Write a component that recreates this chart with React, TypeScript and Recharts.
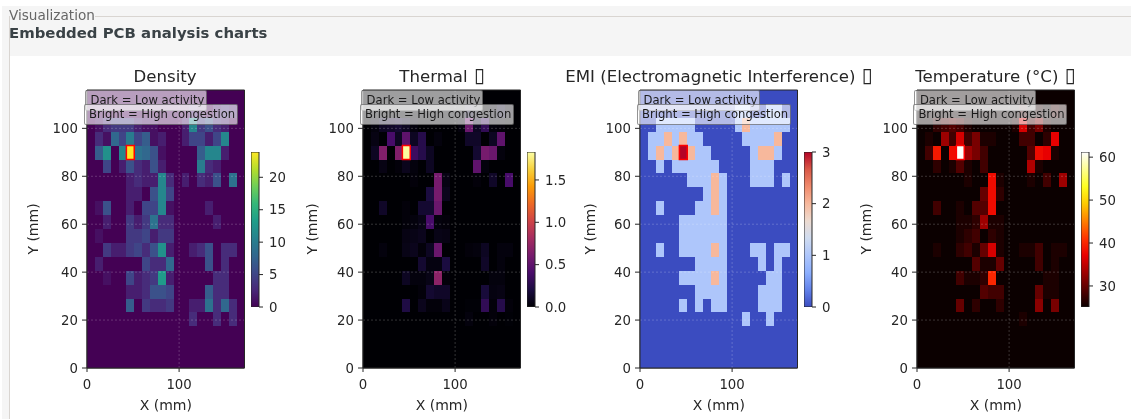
import React from 'react';
import { ScatterChart, Scatter, XAxis, YAxis, ReferenceArea, ReferenceLine, Label } from 'recharts';

const FONT = '"DejaVu Sans", sans-serif';

const CELL_W_MM = 8.55;
const CELL_H_MM = 5.8;
const HOT_COL = 5;
const HOT_ROW = 4;

// each grid reads top row first, 20 x 20 cells
const densityRows = [
  [0, 0, 0, 0, 0, 0, 0, 0, 0, 0, 0, 0, 0, 0, 0, 0, 0, 0, 0, 0],
  [0, 0, 0, 0, 0, 0, 0, 0, 0, 0, 0, 0, 0, 2, 1, 0, 2, 3, 2, 0],
  [0, 1, 3, 4, 4, 4, 2, 1, 1, 0, 0, 0, 2, 11, 4, 6, 3, 2, 0, 0],
  [0, 3, 1, 8, 5, 10, 5, 7, 1, 2, 0, 0, 2, 5, 5, 2, 5, 11, 0, 0],
  [0, 7, 12, 0, 11, 24, 9, 8, 6, 1, 0, 0, 0, 0, 7, 11, 11, 2, 0, 0],
  [0, 0, 5, 0, 2, 6, 3, 2, 6, 2, 0, 0, 0, 0, 10, 3, 2, 0, 0, 0],
  [0, 0, 0, 0, 0, 2, 3, 2, 2, 11, 3, 0, 2, 0, 3, 2, 6, 0, 9, 0],
  [0, 0, 0, 0, 0, 2, 2, 0, 6, 11, 5, 0, 0, 0, 0, 0, 0, 0, 0, 0],
  [0, 1, 6, 0, 0, 2, 0, 5, 5, 11, 1, 0, 0, 0, 0, 2, 0, 0, 0, 0],
  [0, 0, 2, 0, 0, 4, 2, 4, 9, 3, 3, 0, 0, 0, 0, 0, 2, 0, 0, 0],
  [0, 1, 0, 0, 0, 4, 4, 5, 2, 4, 4, 0, 0, 0, 0, 0, 0, 0, 0, 0],
  [0, 0, 4, 2, 2, 4, 5, 3, 6, 12, 2, 0, 0, 2, 3, 6, 0, 3, 3, 0],
  [0, 2, 0, 0, 0, 0, 0, 5, 3, 3, 8, 0, 0, 0, 0, 6, 0, 3, 0, 0],
  [0, 0, 1, 0, 0, 5, 2, 3, 4, 13, 2, 0, 0, 0, 0, 0, 3, 3, 0, 0],
  [0, 0, 0, 0, 0, 2, 2, 3, 6, 6, 5, 0, 0, 0, 0, 7, 3, 3, 0, 0],
  [0, 0, 0, 0, 0, 7, 0, 4, 3, 3, 4, 0, 0, 2, 2, 9, 3, 8, 3, 0],
  [0, 0, 0, 0, 0, 0, 0, 0, 0, 0, 0, 0, 0, 3, 0, 0, 3, 0, 3, 0],
  [0, 0, 0, 0, 0, 0, 0, 0, 0, 0, 0, 0, 0, 0, 0, 0, 0, 0, 0, 0],
  [0, 0, 0, 0, 0, 0, 0, 0, 0, 0, 0, 0, 0, 0, 0, 0, 0, 0, 0, 0],
  [0, 0, 0, 0, 0, 0, 0, 0, 0, 0, 0, 0, 0, 0, 0, 0, 0, 0, 0, 0],
];

const thermalRows = [
  [0, 0, 0, 0, 0, 0, 0, 0, 0, 0, 0, 0, 0, 0, 0, 0, 0, 0, 0, 0],
  [0, 0, 0, 0, 0, 0, 0, 0, 0, 0, 0, 0, 0, 0.1, 0.03, 0, 0.03, 0.1, 0.03, 0],
  [0, 0.03, 0.1, 0.12, 0.15, 0.1, 0.03, 0, 0, 0, 0, 0, 0.03, 0.55, 0.1, 0.3, 0.03, 0.02, 0, 0],
  [0, 0.05, 0, 0.4, 0.1, 0.5, 0.1, 0.25, 0, 0.03, 0, 0, 0, 0.12, 0.12, 0, 0.1, 0.5, 0, 0],
  [0, 0.1, 0.65, 0, 0.65, 1.82, 0.35, 0.25, 0.1, 0, 0, 0, 0, 0, 0.15, 0.6, 0.55, 0.03, 0, 0],
  [0, 0, 0.05, 0, 0.02, 0.08, 0.03, 0, 0.1, 0, 0, 0, 0, 0, 0.5, 0.03, 0, 0, 0, 0],
  [0, 0, 0, 0, 0, 0, 0.02, 0, 0, 0.6, 0.05, 0, 0, 0, 0.02, 0, 0.12, 0, 0.4, 0],
  [0, 0, 0, 0, 0, 0, 0, 0, 0.2, 0.6, 0.08, 0, 0, 0, 0, 0, 0, 0, 0, 0],
  [0, 0, 0.12, 0, 0, 0.02, 0, 0.15, 0.15, 0.55, 0, 0, 0, 0, 0, 0, 0, 0, 0, 0],
  [0, 0, 0, 0, 0, 0.02, 0.03, 0.06, 0.4, 0.03, 0.02, 0, 0, 0, 0, 0, 0, 0, 0, 0],
  [0, 0, 0, 0, 0, 0.05, 0.06, 0.08, 0, 0.06, 0.05, 0, 0, 0, 0, 0, 0, 0, 0, 0],
  [0, 0, 0.03, 0, 0, 0.06, 0.08, 0.02, 0.1, 0.55, 0, 0, 0, 0.02, 0.03, 0.1, 0, 0.03, 0.03, 0],
  [0, 0, 0, 0, 0, 0, 0, 0.15, 0.04, 0.04, 0.2, 0, 0, 0, 0, 0.12, 0, 0.03, 0, 0],
  [0, 0, 0, 0, 0, 0.1, 0.03, 0.03, 0.06, 0.7, 0.02, 0, 0, 0, 0, 0, 0.03, 0.03, 0, 0],
  [0, 0, 0, 0, 0, 0, 0, 0.02, 0.15, 0.12, 0.12, 0, 0, 0, 0, 0.18, 0.04, 0.05, 0, 0],
  [0, 0, 0, 0, 0, 0.22, 0, 0.08, 0.02, 0.02, 0.07, 0, 0, 0.01, 0.01, 0.3, 0.02, 0.25, 0.02, 0],
  [0, 0, 0, 0, 0, 0, 0, 0, 0, 0, 0, 0, 0, 0.03, 0, 0, 0.02, 0, 0.01, 0],
  [0, 0, 0, 0, 0, 0, 0, 0, 0, 0, 0, 0, 0, 0, 0, 0, 0, 0, 0, 0],
  [0, 0, 0, 0, 0, 0, 0, 0, 0, 0, 0, 0, 0, 0, 0, 0, 0, 0, 0, 0],
  [0, 0, 0, 0, 0, 0, 0, 0, 0, 0, 0, 0, 0, 0, 0, 0, 0, 0, 0, 0],
];

const emiRows = [
  [0, 0, 0, 0, 0, 0, 0, 0, 0, 0, 0, 0, 0, 0, 0, 0, 0, 0, 0, 0],
  [0, 0, 0, 0, 0, 0, 0, 0, 0, 0, 0, 0, 1, 1, 0, 0, 1, 1, 0, 0],
  [0, 0, 1, 1, 1, 1, 1, 0, 0, 0, 0, 0, 1, 2, 1, 1, 1, 1, 1, 0],
  [0, 1, 1, 2, 1, 2, 1, 1, 0, 0, 0, 0, 0, 1, 1, 1, 1, 2, 0, 0],
  [0, 1, 2, 1, 2, 3, 2, 1, 1, 0, 0, 0, 0, 0, 1, 2, 2, 1, 0, 0],
  [0, 0, 1, 0, 1, 1, 1, 1, 1, 1, 0, 0, 0, 0, 1, 1, 1, 0, 0, 0],
  [0, 0, 0, 0, 0, 0, 1, 1, 1, 2, 1, 0, 0, 0, 1, 1, 1, 0, 1, 0],
  [0, 0, 0, 0, 0, 0, 0, 0, 1, 2, 1, 0, 0, 0, 0, 0, 0, 0, 0, 0],
  [0, 0, 1, 0, 0, 0, 0, 1, 1, 2, 1, 0, 0, 0, 0, 0, 0, 0, 0, 0],
  [0, 0, 0, 0, 0, 1, 1, 1, 1, 1, 1, 0, 0, 0, 0, 0, 0, 0, 0, 0],
  [0, 0, 0, 0, 0, 1, 1, 1, 1, 1, 1, 0, 0, 0, 0, 0, 0, 0, 0, 0],
  [0, 0, 1, 0, 0, 1, 1, 1, 1, 2, 1, 0, 0, 0, 1, 1, 0, 1, 1, 0],
  [0, 0, 0, 0, 0, 0, 0, 1, 1, 1, 1, 0, 0, 0, 0, 1, 0, 1, 0, 0],
  [0, 0, 0, 0, 0, 1, 1, 1, 1, 2, 1, 0, 0, 0, 0, 0, 1, 1, 0, 0],
  [0, 0, 0, 0, 0, 0, 0, 1, 1, 1, 1, 0, 0, 0, 0, 1, 1, 1, 0, 0],
  [0, 0, 0, 0, 0, 1, 0, 1, 0, 1, 1, 0, 0, 0, 0, 1, 1, 1, 0, 0],
  [0, 0, 0, 0, 0, 0, 0, 0, 0, 0, 0, 0, 0, 1, 0, 0, 1, 0, 0, 0],
  [0, 0, 0, 0, 0, 0, 0, 0, 0, 0, 0, 0, 0, 0, 0, 0, 0, 0, 0, 0],
  [0, 0, 0, 0, 0, 0, 0, 0, 0, 0, 0, 0, 0, 0, 0, 0, 0, 0, 0, 0],
  [0, 0, 0, 0, 0, 0, 0, 0, 0, 0, 0, 0, 0, 0, 0, 0, 0, 0, 0, 0],
];

const temperatureRows = [
  [25, 25, 25, 25, 25, 25, 25, 25, 25, 25, 25, 25, 25, 25, 25, 25, 25, 25, 25, 25],
  [25, 25, 25, 25, 25, 25, 25, 25, 25, 25, 25, 25, 25, 27, 25, 26, 25, 27, 26, 25],
  [25, 25, 27, 28, 29, 28, 26, 25, 25, 25, 25, 25, 26, 36, 28, 31, 26, 25, 25, 25],
  [25, 26, 25, 33, 28, 36, 28, 31, 26, 26, 25, 25, 25, 28, 28, 25, 27, 37, 25, 25],
  [25, 28, 39, 25, 38, 61, 33, 31, 28, 25, 25, 25, 25, 25, 29, 38, 37, 26, 25, 25],
  [25, 25, 27, 25, 26, 29, 26, 25, 28, 25, 25, 25, 25, 25, 34, 26, 25, 25, 25, 25],
  [25, 25, 25, 25, 25, 25, 26, 25, 25, 38, 26, 25, 25, 25, 26, 25, 28, 25, 33, 25],
  [25, 25, 25, 25, 25, 25, 25, 25, 30, 38, 27, 25, 25, 25, 25, 25, 25, 25, 25, 25],
  [25, 25, 28, 25, 25, 26, 25, 29, 29, 38, 25, 25, 25, 25, 25, 25, 25, 25, 25, 25],
  [25, 25, 25, 25, 25, 26, 26, 27, 33, 26, 26, 25, 25, 25, 25, 25, 25, 25, 25, 25],
  [25, 25, 25, 25, 25, 26, 27, 28, 25, 27, 26, 25, 25, 25, 25, 25, 25, 25, 25, 25],
  [25, 25, 26, 25, 25, 27, 28, 26, 30, 36, 26, 25, 25, 26, 26, 28, 25, 26, 26, 25],
  [25, 25, 25, 25, 25, 25, 25, 29, 26, 26, 30, 25, 25, 25, 25, 28, 25, 26, 25, 25],
  [25, 25, 25, 25, 25, 28, 26, 26, 27, 40, 25, 25, 25, 25, 25, 25, 26, 26, 25, 25],
  [25, 25, 25, 25, 25, 25, 25, 25, 29, 28, 28, 25, 25, 25, 25, 30, 26, 26, 25, 25],
  [25, 25, 25, 25, 25, 30, 25, 27, 25, 25, 27, 25, 25, 25, 25, 32, 25, 31, 25, 25],
  [25, 25, 25, 25, 25, 25, 25, 25, 25, 25, 25, 25, 25, 26, 25, 25, 25, 25, 25, 25],
  [25, 25, 25, 25, 25, 25, 25, 25, 25, 25, 25, 25, 25, 25, 25, 25, 25, 25, 25, 25],
  [25, 25, 25, 25, 25, 25, 25, 25, 25, 25, 25, 25, 25, 25, 25, 25, 25, 25, 25, 25],
  [25, 25, 25, 25, 25, 25, 25, 25, 25, 25, 25, 25, 25, 25, 25, 25, 25, 25, 25, 25],
];

const viridis = ['#440154', '#482878', '#3e4989', '#31688e', '#26828e', '#1f9e89', '#35b779', '#6ece58', '#b5de2b', '#fde725'];
const inferno = ['#000004', '#1b0c41', '#4a0c6b', '#781c6d', '#a52c60', '#cf4446', '#ed6925', '#fb9b06', '#f7d13d', '#fcffa4'];
const coolwarm = ['#3b4cc0', '#6282ea', '#8caffe', '#aec6fb', '#d0dcf0', '#eddbd0', '#f7b89c', '#f08a6c', '#d95847', '#b40426'];
const hot = ['#0b0000', '#550000', '#9f0000', '#ea0000', '#ff3500', '#ff8000', '#ffca00', '#ffff20', '#ffff90', '#ffffff'];

const yTicks = [0, 20, 40, 60, 80, 100];
const xTicks = [0, 100];

const panels = [
  { id: 'density', title: 'Density', tofu: false, rows: densityRows, colors: viridis, min: 0, max: 23.9, barTicks: [0, 5, 10, 15, 20], barDigits: 0 },
  { id: 'thermal', title: 'Thermal', tofu: true, rows: thermalRows, colors: inferno, min: 0, max: 1.83, barTicks: [0, 0.5, 1, 1.5], barDigits: 1 },
  { id: 'emi', title: 'EMI (Electromagnetic Interference)', tofu: true, rows: emiRows, colors: coolwarm, min: 0, max: 3, barTicks: [0, 1, 2, 3], barDigits: 0 },
  { id: 'temp', title: 'Temperature (\u00B0C)', tofu: true, rows: temperatureRows, colors: hot, min: 25.1, max: 61.2, barTicks: [30, 40, 50, 60], barDigits: 0 },
];

// page layout, one entry per panel
const plotLefts: Record<string, number> = { density: 87.3, thermal: 363.4, emi: 640.3, temp: 916.7 };
const yLabelOffsets: Record<string, number> = { density: 15.7, thermal: 18.6, emi: 19.7, temp: 19.3 };

const PLOT_W = 157.5;
const PLOT_H = 278;
const INK = '#262626';
const TOP_Z = 2000;

function hexToRgb(hex: string) {
  return [1, 3, 5].map((i) => parseInt(hex.slice(i, i + 2), 16));
}

function colorFor(colors: string[], t: number) {
  const pos = Math.max(0, Math.min(1, t)) * (colors.length - 1);
  const i = Math.min(Math.floor(pos), colors.length - 2);
  const a = hexToRgb(colors[i]);
  const b = hexToRgb(colors[i + 1]);
  const f = pos - i;
  return `rgb(${a.map((v, k) => Math.round(v + (b[k] - v) * f)).join(',')})`;
}

function toCells(rows: number[][]) {
  const cells: { x: number; y: number; v: number }[] = [];
  rows.forEach((row, r) => {
    row.forEach((v, c) => {
      cells.push({ x: (c + 0.5) * CELL_W_MM, y: (rows.length - r - 0.5) * CELL_H_MM, v });
    });
  });
  return cells;
}

const Heatmap = ({ panel }: { panel: (typeof panels)[number] }) => {
  const cellW = PLOT_W / 20;
  const cellH = PLOT_H / 20;
  const hotX = HOT_COL * CELL_W_MM;
  const hotY = (20 - HOT_ROW - 1) * CELL_H_MM;
  const span = panel.max - panel.min;
  const axisLabel = { fill: INK, fontSize: 14, fontFamily: FONT };
  return (
    <div style={{ position: 'absolute', left: plotLefts[panel.id] - 70, top: 80 }}>
      <ScatterChart width={70 + PLOT_W + 4} height={339} margin={{ top: 10, right: 4, bottom: 21, left: 0 }}>
        <XAxis
          type="number"
          dataKey="x"
          domain={[0, 171]}
          ticks={xTicks}
          interval={0}
          allowDataOverflow
          height={30}
          tickSize={4}
          tickMargin={8}
          tick={{ fill: INK, fontSize: 13.3, fontFamily: FONT }}
          tickLine={{ stroke: INK }}
          axisLine={{ stroke: INK }}
        >
          <Label value="X (mm)" position="bottom" offset={2} style={axisLabel} />
        </XAxis>
        <YAxis
          type="number"
          dataKey="y"
          domain={[0, 116]}
          ticks={yTicks}
          interval={0}
          allowDataOverflow
          width={70}
          tickSize={5}
          tickMargin={4}
          tick={{ fill: INK, fontSize: 13.3, fontFamily: FONT }}
          tickLine={{ stroke: INK }}
          axisLine={{ stroke: INK }}
        >
          <Label value="Y (mm)" angle={-90} position="insideLeft" offset={yLabelOffsets[panel.id]} style={{ ...axisLabel, textAnchor: 'middle' }} />
        </YAxis>
        <Scatter
          data={toCells(panel.rows)}
          isAnimationActive={false}
          shape={(p: any) => (
            <rect
              x={p.cx - cellW / 2}
              y={p.cy - cellH / 2}
              width={cellW}
              height={cellH}
              shapeRendering="crispEdges"
              fill={colorFor(panel.colors, (p.payload.v - panel.min) / span)}
            />
          )}
        />
        {xTicks.slice(1).map((t) => (
          <ReferenceLine key={t} x={t} zIndex={TOP_Z} stroke="rgba(255,255,255,0.2)" strokeDasharray="2 2" />
        ))}
        {yTicks.slice(1).map((t) => (
          <ReferenceLine key={t} y={t} zIndex={TOP_Z} stroke="rgba(255,255,255,0.2)" strokeDasharray="2 2" />
        ))}
        <ReferenceArea x1={hotX} x2={hotX + CELL_W_MM} y1={hotY} y2={hotY + CELL_H_MM} zIndex={TOP_Z} fill="none" stroke="#ff0000" strokeWidth={1.5} />
        <ReferenceArea x1={0} x2={171} y1={0} y2={116} zIndex={TOP_Z} fill="none" stroke={INK} strokeWidth={1} />
      </ScatterChart>
    </div>
  );
};

const ColorBar = ({ panel }: { panel: (typeof panels)[number] }) => {
  const gradId = `grad-${panel.id}`;
  const barPoint = [{ x: 0.5, y: (panel.min + panel.max) / 2 }];
  return (
    <div style={{ position: 'absolute', left: plotLefts[panel.id] + PLOT_W + 6.5, top: 136 }}>
      <ScatterChart width={48} height={187} margin={{ top: 16, right: 0, bottom: 16, left: 0 }}>
        <defs>
          <linearGradient id={gradId} x1="0" y1="1" x2="0" y2="0">
            {panel.colors.map((c, i) => (
              <stop key={c} offset={i / (panel.colors.length - 1)} stopColor={c} />
            ))}
          </linearGradient>
        </defs>
        <XAxis type="number" dataKey="x" domain={[0, 1]} hide />
        <YAxis
          type="number"
          dataKey="y"
          orientation="right"
          domain={[panel.min, panel.max]}
          ticks={panel.barTicks}
          interval={0}
          allowDataOverflow
          width={40}
          tickSize={4}
          tickMargin={6}
          tickFormatter={(v: number) => v.toFixed(panel.barDigits)}
          tick={{ fill: INK, fontSize: 13.3, fontFamily: FONT, textAnchor: 'start' }}
          tickLine={{ stroke: INK }}
          axisLine={false}
        />
        <Scatter
          data={barPoint}
          isAnimationActive={false}
          shape={(p: any) => (
            <rect x={p.cx - 4} y={p.cy - 77.5} width={8} height={155} fill={`url(#${gradId})`} stroke={INK} strokeWidth={1} />
          )}
        />
      </ScatterChart>
    </div>
  );
};

const NoteBox = ({ left, top, width, text }: { left: number; top: number; width: number; text: string }) => (
  <div
    style={{
      position: 'absolute',
      left,
      top,
      width,
      height: 21,
      boxSizing: 'border-box',
      background: 'rgba(255,255,255,0.62)',
      border: '1px solid rgba(0,0,0,0.42)',
      borderRadius: 2,
      fontFamily: FONT,
      fontSize: 11.6,
      lineHeight: '19px',
      paddingLeft: 4.5,
      color: '#1a1a1a',
      whiteSpace: 'nowrap',
    }}
  >
    {text}
  </div>
);

export default function App() {
  return (
    <div style={{ position: 'absolute', left: 0, top: 0, width: 1131, height: 419, overflow: 'hidden', background: '#fff', filter: 'blur(0.45px)' }}>
      <div style={{ position: 'absolute', left: 2, top: 6, width: 1129, height: 413, background: '#f5f5f5' }} />
      <div style={{ position: 'absolute', left: 10, top: 56, width: 1121, height: 363, background: '#fff' }} />
      <div style={{ position: 'absolute', left: 9, top: 16, width: 1, height: 403, background: '#d9d5d1' }} />
      <div style={{ position: 'absolute', left: 95, top: 16, width: 1036, height: 1, background: '#d9d5d1' }} />
      <div style={{ position: 'absolute', left: 9, top: 7, fontFamily: FONT, fontSize: 13.6, lineHeight: '17px', color: '#666' }}>Visualization</div>
      <div style={{ position: 'absolute', left: 9, top: 24, fontFamily: FONT, fontSize: 14.9, fontWeight: 700, lineHeight: '18px', color: '#3a4246' }}>
        Embedded PCB analysis charts
      </div>
      {panels.map((panel) => {
        const left = plotLefts[panel.id];
        return (
          <React.Fragment key={panel.id}>
            <Heatmap panel={panel} />
            <ColorBar panel={panel} />
            <div
              style={{
                position: 'absolute',
                left: left + PLOT_W / 2 - 200 - (panel.tofu ? 0 : 1),
                width: 400,
                top: 67,
                textAlign: 'center',
                fontFamily: FONT,
                fontSize: 16.6,
                lineHeight: '20px',
                color: INK,
              }}
            >
              {panel.title}
              {panel.tofu ? <span style={{ fontSize: 20, lineHeight: 0 }}> {'\u25AF'}</span> : null}
            </div>
            <NoteBox left={left - 2.3} top={89.5} width={122} text="Dark = Low activity" />
            <NoteBox left={left - 3.8} top={104} width={154.5} text="Bright = High congestion" />
          </React.Fragment>
        );
      })}
    </div>
  );
}
